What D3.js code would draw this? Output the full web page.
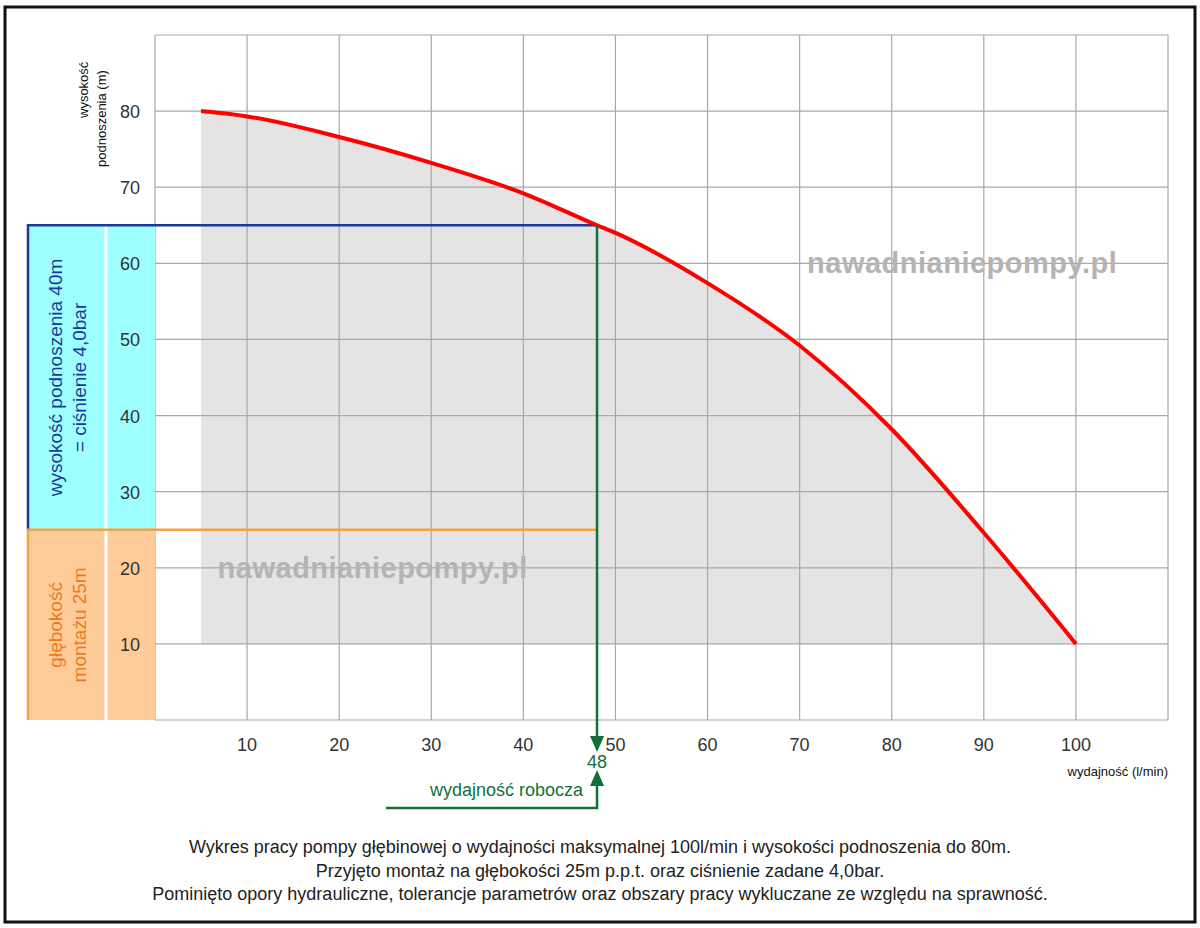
<!DOCTYPE html>
<html><head><meta charset="utf-8">
<script src="https://cdn.jsdelivr.net/npm/d3@7"></script>
<style>body{margin:0;background:#fff}svg{display:block;font-family:"Liberation Sans",Arial,sans-serif}</style>
</head><body><svg id="c" width="1200" height="928"></svg>
<script>
const curveQ = [5,10,20,30,40,48,50,60,70,80,90,100];
const curveH = [80,79.3,76.6,73.2,69.2,65,64,57.4,49.2,38.2,24.6,10];
const xTicks = [10,20,30,40,50,60,70,80,90,100];
const yTicks = [10,20,30,40,50,60,70,80];
const workQ = 48, workH = 65, mountH = 25;
const captions = ["Wykres pracy pompy głębinowej o wydajności maksymalnej 100l/min i wysokości podnoszenia do 80m.",
 "Przyjęto montaż na głębokości 25m p.p.t. oraz ciśnienie zadane 4,0bar.",
 "Pominięto opory hydrauliczne, tolerancje parametrów oraz obszary pracy wykluczane ze względu na sprawność."];

const svg = d3.select("#c");
const x = d3.scaleLinear().domain([0,110]).range([155,1168]);
const y = d3.scaleLinear().domain([0,90]).range([720,35]);
svg.append("rect").attr("x",5).attr("y",7).attr("width",1190).attr("height",915).attr("fill","none").attr("stroke","#111").attr("stroke-width",3);

// gray fill
const pts = curveQ.map((q,i)=>[x(q),y(curveH[i])]);
const poly = pts.concat([[x(curveQ[0]),y(10)]]);
svg.append("path").attr("d",d3.line()(poly)+"Z").attr("fill","#e4e4e4");

// grid
const g = svg.append("g").attr("stroke","#a8a8a8").attr("stroke-width",1.2);
d3.range(0,111,10).forEach(v=>g.append("line").attr("x1",x(v)).attr("x2",x(v)).attr("y1",y(0)).attr("y2",y(90)));
d3.range(0,91,10).forEach(v=>g.append("line").attr("x1",x(0)).attr("x2",x(110)).attr("y1",y(v)).attr("y2",y(v)));

// left boxes
svg.append("rect").attr("x",28).attr("y",y(workH)).attr("width",x(0)-28).attr("height",y(mountH)-y(workH)).attr("fill","#9effff");
svg.append("rect").attr("x",28).attr("y",y(mountH)).attr("width",x(0)-28).attr("height",y(0)-y(mountH)).attr("fill","#ffcc99");
svg.append("line").attr("x1",106).attr("x2",106).attr("y1",y(workH)).attr("y2",y(0)).attr("stroke","#fff").attr("stroke-width",3);
svg.append("path").attr("d",`M${x(workQ)},${y(workH)}H28V${y(mountH)}`).attr("fill","none").attr("stroke","#1a3a99").attr("stroke-width",2.5);
svg.append("path").attr("d",`M${x(workQ)},${y(mountH)}H28V${y(0)}`).attr("fill","none").attr("stroke","#f7a040").attr("stroke-width",2.5);

// y tick labels
yTicks.forEach(v=>svg.append("text").attr("x",140).attr("y",y(v)+7).attr("text-anchor","end").attr("font-size",18).attr("fill","#333").text(v));
xTicks.forEach(v=>svg.append("text").attr("x",x(v)).attr("y",751).attr("text-anchor","middle").attr("font-size",18).attr("fill","#333").text(v));

// axis titles
svg.append("text").attr("transform","translate(88,118) rotate(-90)").attr("font-size",13).attr("fill","#111").text("wysokość");
svg.append("text").attr("transform","translate(106,167) rotate(-90)").attr("font-size",13).attr("fill","#111").text("podnoszenia (m)");
svg.append("text").attr("x",1168).attr("y",776).attr("text-anchor","end").attr("font-size",13).attr("fill","#111").text("wydajność (l/min)");

// box labels
svg.append("text").attr("transform",`translate(62,${(y(workH)+y(mountH))/2}) rotate(-90)`).attr("text-anchor","middle").attr("font-size",19).attr("fill","#1a3a99")
  .selectAll("tspan").data(["wysokość podnoszenia 40m","= ciśnienie 4,0bar"]).join("tspan").attr("x",0).attr("dy",(d,i)=>i?24:0).text(d=>d);
svg.append("text").attr("transform",`translate(62,${(y(mountH)+y(0))/2}) rotate(-90)`).attr("text-anchor","middle").attr("font-size",19).attr("fill","#f07820")
  .selectAll("tspan").data(["głębokość","montażu 25m"]).join("tspan").attr("x",0).attr("dy",(d,i)=>i?24:0).text(d=>d);

// watermarks
[[x(40),y(20)],[x(102),y(60)]].forEach(([wx,wy],i)=>svg.append("text").attr("x",i? x(104.5):x(6.8)).attr("y",wy+10).attr("text-anchor",i?"end":"start").attr("font-size",29).attr("font-weight","bold").attr("fill","#b4b4b4").attr("letter-spacing",0.5).text("nawadnianiepompy.pl"));

// curve
svg.append("path").attr("d",d3.line().curve(d3.curveMonotoneX)(pts)).attr("fill","none").attr("stroke","#ff0000").attr("stroke-width",4);

// working point
const gc = "#11703a";
svg.append("line").attr("x1",x(workQ)).attr("x2",x(workQ)).attr("y1",y(workH)).attr("y2",738).attr("stroke",gc).attr("stroke-width",2.5);
svg.append("path").attr("d",`M${x(workQ)-7},736L${x(workQ)+7},736L${x(workQ)},752Z`).attr("fill",gc);
svg.append("text").attr("x",x(workQ)).attr("y",768).attr("text-anchor","middle").attr("font-size",18).attr("fill",gc).text(workQ);
svg.append("path").attr("d",`M386,808H${x(workQ)}V782`).attr("fill","none").attr("stroke",gc).attr("stroke-width",2.5);
svg.append("path").attr("d",`M${x(workQ)-7},786L${x(workQ)+7},786L${x(workQ)},770Z`).attr("fill",gc);
svg.append("text").attr("x",x(workQ)-14).attr("y",796).attr("text-anchor","end").attr("font-size",18).attr("fill",gc).text("wydajność robocza");

// captions
captions.forEach((c,i)=>svg.append("text").attr("x",600).attr("y",853+i*23.5).attr("text-anchor","middle").attr("font-size",18).attr("fill","#222").text(c));
</script></body></html>
